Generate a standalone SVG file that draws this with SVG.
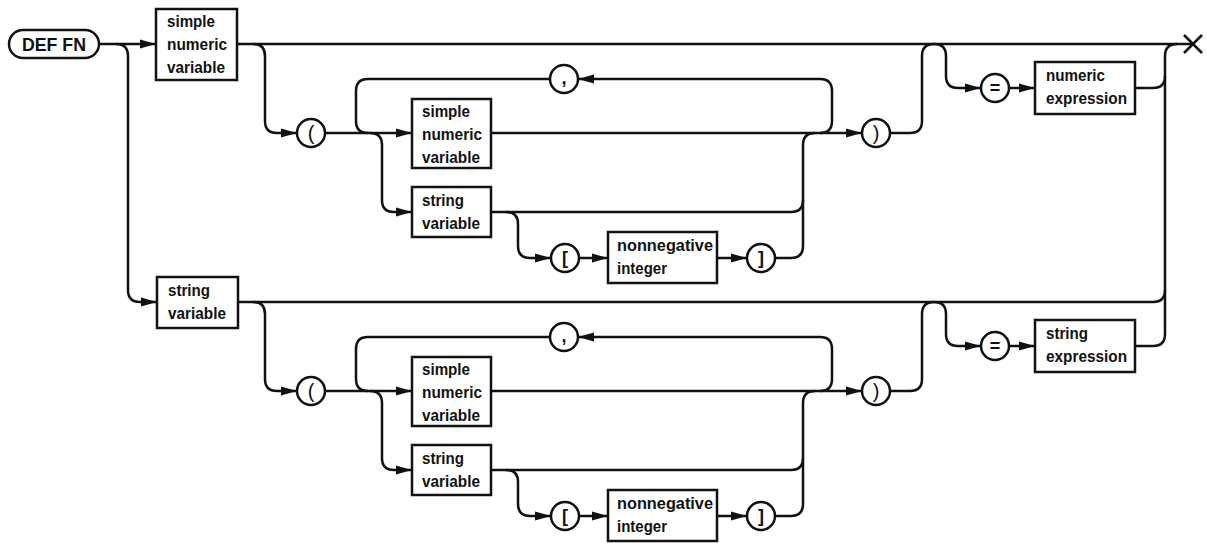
<svg xmlns="http://www.w3.org/2000/svg" width="1207" height="543" viewBox="0 0 1207 543">
<style>
.ln{fill:none;stroke:#111;stroke-width:2.5;stroke-linejoin:round}
.ar{marker-end:url(#ah)}
.bx{fill:#fff;stroke:#111;stroke-width:2.5}
.t{font-family:"Liberation Sans",Arial,sans-serif;font-weight:bold;font-size:17px;fill:#111}
.c{font-family:"Liberation Sans",Arial,sans-serif;font-weight:bold;font-size:18px;fill:#111;text-anchor:middle}
.p{font-family:"Liberation Sans",Arial,sans-serif;font-size:20px;fill:#111;text-anchor:middle}
</style>
<defs>
<marker id="ah" markerUnits="userSpaceOnUse" markerWidth="17" markerHeight="10" refX="16" refY="5" orient="auto">
<path d="M0,0.5 L16,5 L0,9.5 z" fill="#111"/>
</marker>
</defs>
<rect width="1207" height="543" fill="#fff"/>
<g id="connectors">
<path class="ln ar" d="M99,44 H156"/>
<path class="ln ar" d="M116,44 Q128,44 128,56 V290 Q128,302 140,302 H157"/>
<path class="ln" d="M237,44 H1193"/>
<path class="ln" d="M1165,334 V56 Q1165,44 1177,44"/>
<g id="top-conn">
<path class="ln ar" d="M253,44 Q265,44 265,56 V121 Q265,133 277,133 H297"/>
<path class="ln ar" d="M325,133 H412"/>
<path class="ln ar" d="M491,133 H862"/>
<path class="ln ar" d="M820,133 Q832,133 832,121 V91 Q832,79 820,79 H578"/>
<path class="ln" d="M550,79 H368 Q356,79 356,91 V121 Q356,133 368,133"/>
<path class="ln ar" d="M370,133 Q382,133 382,145 V200 Q382,212 394,212 H412"/>
<path class="ln" d="M491,212 H791 Q803,212 803,200"/>
<path class="ln" d="M775,258 H791 Q803,258 803,246 V145 Q803,133 815,133"/>
<path class="ln ar" d="M506,212 Q518,212 518,224 V246 Q518,258 530,258 H551"/>
<path class="ln ar" d="M579,258 H608"/>
<path class="ln ar" d="M717,258 H747"/>
<path class="ln" d="M890,133 H910 Q922,133 922,121 V56 Q922,44 934,44"/>
<path class="ln ar" d="M934,44 Q946,44 946,56 V76 Q946,88 958,88 H981"/>
<path class="ln ar" d="M1009,88 H1035"/>
<path class="ln" d="M1135,88 H1153 Q1165,88 1165,76"/>
</g>
<path class="ln" d="M238,302 H1153 Q1165,302 1165,290"/>
<g id="bottom-conn" transform="translate(0,258)">
<path class="ln ar" d="M253,44 Q265,44 265,56 V121 Q265,133 277,133 H297"/>
<path class="ln ar" d="M325,133 H412"/>
<path class="ln ar" d="M491,133 H862"/>
<path class="ln ar" d="M820,133 Q832,133 832,121 V91 Q832,79 820,79 H578"/>
<path class="ln" d="M550,79 H368 Q356,79 356,91 V121 Q356,133 368,133"/>
<path class="ln ar" d="M370,133 Q382,133 382,145 V200 Q382,212 394,212 H412"/>
<path class="ln" d="M491,212 H791 Q803,212 803,200"/>
<path class="ln" d="M775,258 H791 Q803,258 803,246 V145 Q803,133 815,133"/>
<path class="ln ar" d="M506,212 Q518,212 518,224 V246 Q518,258 530,258 H551"/>
<path class="ln ar" d="M579,258 H608"/>
<path class="ln ar" d="M717,258 H747"/>
<path class="ln" d="M890,133 H910 Q922,133 922,121 V56 Q922,44 934,44"/>
<path class="ln ar" d="M934,44 Q946,44 946,56 V76 Q946,88 958,88 H981"/>
<path class="ln ar" d="M1009,88 H1035"/>
<path class="ln" d="M1135,88 H1153 Q1165,88 1165,76"/>
</g>
</g>
<g id="defFn"><rect class="bx" x="9" y="30" width="90" height="28" rx="14"/><text class="c" x="54" y="51" font-size="19" textLength="64" lengthAdjust="spacingAndGlyphs">DEF FN</text></g>
<g id="t_snv"><rect class="bx" x="156" y="9" width="81" height="71"/><text class="t" x="167" y="27" textLength="48" lengthAdjust="spacingAndGlyphs">simple</text><text class="t" x="167" y="50" textLength="60" lengthAdjust="spacingAndGlyphs">numeric</text><text class="t" x="167" y="73" textLength="58" lengthAdjust="spacingAndGlyphs">variable</text></g>
<g id="t_lparen"><circle class="bx" cx="311" cy="133" r="14"/><text class="p" x="311" y="140">(</text></g>
<g id="t_comma"><circle class="bx" cx="564" cy="79" r="14"/><text class="c" x="564" y="84">,</text></g>
<g id="t_isnv"><rect class="bx" x="412" y="99" width="79" height="69"/><text class="t" x="422" y="117" textLength="48" lengthAdjust="spacingAndGlyphs">simple</text><text class="t" x="422" y="140" textLength="60" lengthAdjust="spacingAndGlyphs">numeric</text><text class="t" x="422" y="163" textLength="58" lengthAdjust="spacingAndGlyphs">variable</text></g>
<g id="t_isv"><rect class="bx" x="412" y="187" width="79" height="50"/><text class="t" x="422" y="206" textLength="42" lengthAdjust="spacingAndGlyphs">string</text><text class="t" x="422" y="229" textLength="58" lengthAdjust="spacingAndGlyphs">variable</text></g>
<g id="t_lbr"><circle class="bx" cx="565" cy="258" r="14"/><text class="c" x="565" y="264">[</text></g>
<g id="t_nonneg"><rect class="bx" x="608" y="232" width="109" height="51"/><text class="t" x="617" y="251" textLength="96" lengthAdjust="spacingAndGlyphs">nonnegative</text><text class="t" x="617" y="274" textLength="50" lengthAdjust="spacingAndGlyphs">integer</text></g>
<g id="t_rbr"><circle class="bx" cx="761" cy="258" r="14"/><text class="c" x="761" y="264">]</text></g>
<g id="t_rparen"><circle class="bx" cx="876" cy="133" r="14"/><text class="p" x="876" y="140">)</text></g>
<g id="t_eq"><circle class="bx" cx="995" cy="88" r="14"/><text class="c" x="995" y="94">=</text></g>
<g id="t_nexpr"><rect class="bx" x="1035" y="62" width="100" height="52"/><text class="t" x="1046" y="81" textLength="59" lengthAdjust="spacingAndGlyphs">numeric</text><text class="t" x="1046" y="104" textLength="81" lengthAdjust="spacingAndGlyphs">expression</text></g>
<g id="end"><path class="ln" d="M1184,35 L1202,53 M1184,53 L1202,35"/></g>
<g id="b_sv"><rect class="bx" x="157" y="277" width="81" height="51"/><text class="t" x="168" y="296" textLength="42" lengthAdjust="spacingAndGlyphs">string</text><text class="t" x="168" y="319" textLength="58" lengthAdjust="spacingAndGlyphs">variable</text></g>
<g id="b_lparen"><circle class="bx" cx="311" cy="391" r="14"/><text class="p" x="311" y="398">(</text></g>
<g id="b_comma"><circle class="bx" cx="564" cy="337" r="14"/><text class="c" x="564" y="342">,</text></g>
<g id="b_isnv"><rect class="bx" x="412" y="357" width="79" height="69"/><text class="t" x="422" y="375" textLength="48" lengthAdjust="spacingAndGlyphs">simple</text><text class="t" x="422" y="398" textLength="60" lengthAdjust="spacingAndGlyphs">numeric</text><text class="t" x="422" y="421" textLength="58" lengthAdjust="spacingAndGlyphs">variable</text></g>
<g id="b_isv"><rect class="bx" x="412" y="445" width="79" height="50"/><text class="t" x="422" y="464" textLength="42" lengthAdjust="spacingAndGlyphs">string</text><text class="t" x="422" y="487" textLength="58" lengthAdjust="spacingAndGlyphs">variable</text></g>
<g id="b_lbr"><circle class="bx" cx="565" cy="516" r="14"/><text class="c" x="565" y="522">[</text></g>
<g id="b_nonneg"><rect class="bx" x="608" y="490" width="109" height="51"/><text class="t" x="617" y="509" textLength="96" lengthAdjust="spacingAndGlyphs">nonnegative</text><text class="t" x="617" y="532" textLength="50" lengthAdjust="spacingAndGlyphs">integer</text></g>
<g id="b_rbr"><circle class="bx" cx="761" cy="516" r="14"/><text class="c" x="761" y="522">]</text></g>
<g id="b_rparen"><circle class="bx" cx="876" cy="391" r="14"/><text class="p" x="876" y="398">)</text></g>
<g id="b_eq"><circle class="bx" cx="995" cy="346" r="14"/><text class="c" x="995" y="352">=</text></g>
<g id="b_sexpr"><rect class="bx" x="1035" y="320" width="100" height="52"/><text class="t" x="1046" y="339" textLength="42" lengthAdjust="spacingAndGlyphs">string</text><text class="t" x="1046" y="362" textLength="81" lengthAdjust="spacingAndGlyphs">expression</text></g>
</svg>
